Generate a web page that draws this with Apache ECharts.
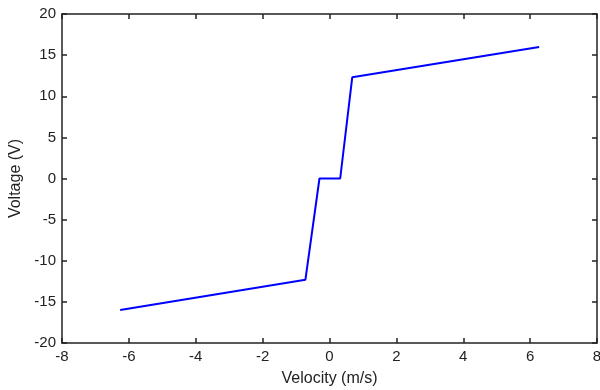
<!DOCTYPE html>
<html><head><meta charset="utf-8">
<script src="https://cdn.jsdelivr.net/npm/echarts@6/dist/echarts.min.js"></script>
<style>html,body{margin:0;padding:0;background:#fff}#c{width:600px;height:390px}</style>
</head><body><div id="c"></div>
<script>
var velocity = [-6.26, -0.72, -0.3, 0.32, 0.68, 6.27];
var voltage = [-16.0, -12.3, 0.0, 0.0, 12.3, 16.0];
var xTitle = 'Velocity (m/s)';
var yTitle = 'Voltage (V)';

var pts = velocity.map(function(v, i){ return [v, voltage[i]]; });
var chart = echarts.init(document.getElementById('c'));
var font = 'Liberation Sans, Arial';
function ax(extra, showLabel) {
  return Object.assign({
    type: 'value',
    axisLine: {show: true, onZero: false, lineStyle: {color: '#222', width: 1.5}},
    axisTick: {show: true, inside: true, length: 5, lineStyle: {color: '#222', width: 1.5}},
    splitLine: {show: false},
    axisLabel: {show: showLabel, color: '#222', fontFamily: font, fontSize: 15, margin: 6},
    nameTextStyle: {color: '#222', fontFamily: font, fontSize: 16}
  }, extra);
}
chart.setOption({
  animation: false,
  backgroundColor: '#fff',
  grid: {left: 62, right: 3, top: 14, bottom: 47, outerBoundsMode: 'none', containLabel: false},
  xAxis: [
    ax({min: -8, max: 8, interval: 2, position: 'bottom', name: xTitle, nameLocation: 'middle', nameGap: 28}, true),
    ax({min: -8, max: 8, interval: 2, position: 'top'}, false)
  ],
  yAxis: [
    ax({min: -20, max: 20, interval: 5, position: 'left', name: yTitle, nameLocation: 'middle', nameGap: 34}, true),
    ax({min: -20, max: 20, interval: 5, position: 'right'}, false)
  ],
  series: [{
    type: 'line', data: pts, showSymbol: false, xAxisIndex: 0, yAxisIndex: 0,
    lineStyle: {color: '#0000ff', width: 2}
  }]
});
</script></body></html>
